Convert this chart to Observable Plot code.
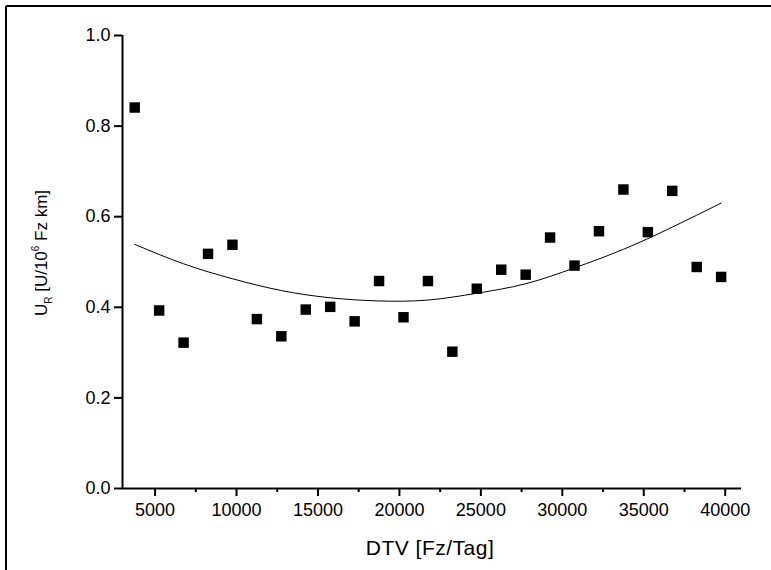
<!DOCTYPE html>
<html>
<head>
<meta charset="utf-8">
<script src="https://cdn.jsdelivr.net/npm/d3@7"></script>
<script src="https://cdn.jsdelivr.net/npm/@observablehq/plot@0.6"></script>
<style>
  body { margin: 0; background: #fff; }
  #chart { width: 771px; height: 570px; position: relative; }
</style>
</head>
<body>
<div id="chart"></div>
<script>
// Measured data (DTV in Fz/Tag, U_R in U/10^6 Fz km)
const dtv = [3750, 5250, 6750, 8250, 9750, 11250, 12750, 14250, 15750, 17250, 18750, 20250, 21750,
             23250, 24750, 26250, 27750, 29250, 30750, 32250, 33750, 35250, 36750, 38250, 39750];
const ur = [0.841, 0.393, 0.322, 0.518, 0.538, 0.374, 0.336, 0.395, 0.401, 0.369, 0.458, 0.378, 0.458,
            0.302, 0.441, 0.483, 0.472, 0.554, 0.492, 0.568, 0.660, 0.566, 0.657, 0.489, 0.467];

// Fitted curve
const fitX = [3750, 6750, 9750, 12750, 15750, 18750, 21750, 24750, 27750, 30750, 33750, 36750, 39750];
const fitY = [0.539, 0.496, 0.463, 0.437, 0.421, 0.414, 0.416, 0.431, 0.452, 0.487, 0.528, 0.577, 0.630];

// Ticks
const xMajorTicks = [5000, 10000, 15000, 20000, 25000, 30000, 35000, 40000];
const xMinorTicks = [7500, 12500, 17500, 22500, 27500, 32500, 37500];
const yTicks = [0, 0.2, 0.4, 0.6, 0.8, 1.0];

const points = dtv.map((x, i) => ({x, y: ur[i]}));
const fit = fitX.map((x, i) => ({x, y: fitY[i]}));

const W = 771, H = 570;
const mL = 122, mR = 30, mT = 35, mB = 82;
const font = "Arial, 'Liberation Sans', sans-serif";

const plot = Plot.plot({
  width: W,
  height: H,
  marginLeft: mL,
  marginRight: mR,
  marginTop: mT,
  marginBottom: mB,
  style: { fontFamily: font, fontSize: "18px", color: "#000", background: "#fff", overflow: "visible" },
  x: { domain: [3000, 41000], axis: null },
  y: { domain: [0, 1], axis: null },
  marks: [
    Plot.axisX({ticks: xMajorTicks, tickSize: 8, tickPadding: 7, strokeWidth: 2, label: null,
                 tickFormat: d => String(d), fontSize: 18}),
    Plot.axisX({ticks: xMinorTicks, tickSize: 4, strokeWidth: 2, label: null, text: null}),
    Plot.axisY({ticks: yTicks, tickSize: 8, tickPadding: 4, strokeWidth: 2, label: null,
                 tickFormat: d3.format(".1f"), fontSize: 18}),
    Plot.ruleY([0], {strokeWidth: 2, stroke: "#000"}),
    Plot.ruleX([3000], {strokeWidth: 2, stroke: "#000"}),
    Plot.line(fit, {x: "x", y: "y", curve: "natural", stroke: "#000", strokeWidth: 1}),
    Plot.dot(points, {x: "x", y: "y", symbol: "square", r: 5.9, fill: "#000", stroke: "none"})
  ]
});

const svg = d3.select(plot);

// outer frame lines (top and left)
svg.append("line").attr("x1", 6).attr("y1", 6).attr("x2", W).attr("y2", 6)
   .attr("stroke", "#000").attr("stroke-width", 2);
svg.append("line").attr("x1", 6).attr("y1", 6).attr("x2", 6).attr("y2", H)
   .attr("stroke", "#000").attr("stroke-width", 2);

// x axis label
svg.append("text")
   .attr("x", 430).attr("y", 555)
   .attr("text-anchor", "middle")
   .attr("font-family", font).attr("font-size", 21).attr("letter-spacing", "0.5px").attr("fill", "#000")
   .text("DTV [Fz/Tag]");

// y axis label with subscript and superscript
const yl = svg.append("text")
   .attr("transform", "translate(47,253) rotate(-90)")
   .attr("text-anchor", "middle")
   .attr("font-family", font).attr("font-size", 17).attr("fill", "#000");
yl.append("tspan").text("U");
yl.append("tspan").attr("font-size", 10).attr("dy", 5).text("R");
yl.append("tspan").attr("dy", -5).text(" [U/10");
yl.append("tspan").attr("font-size", 10).attr("dy", -8).text("6");
yl.append("tspan").attr("dy", 8).text(" Fz km]");

document.getElementById("chart").appendChild(plot);
</script>
</body>
</html>
